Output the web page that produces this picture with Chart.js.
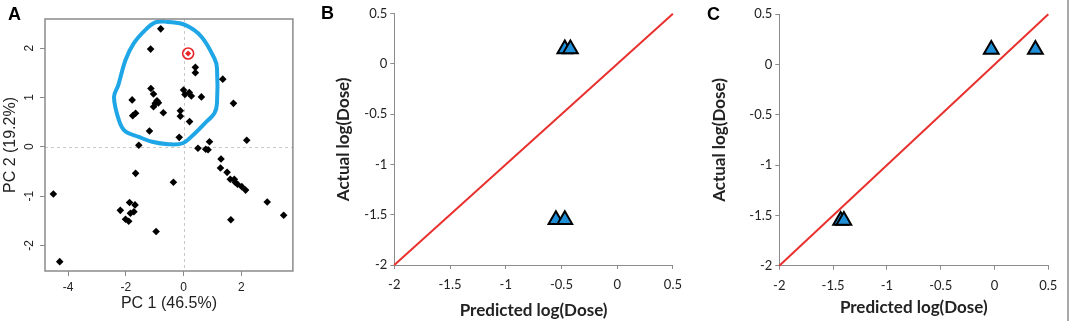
<!DOCTYPE html>
<html><head><meta charset="utf-8">
<script src="https://cdn.jsdelivr.net/npm/chart.js@4"></script>
<style>
body{margin:0;background:#fff;width:1072px;height:324px;position:relative;overflow:hidden}
.p{position:absolute;top:0;height:324px}
.lab{position:absolute;font:bold 18px "Liberation Sans",Arial,sans-serif;line-height:18px;color:#000}
#edge{position:absolute;left:1067px;top:0;width:2px;height:321px;background:#aaa}
</style></head><body>
<div class="p" style="left:0;width:300px"><canvas id="ca" width="300" height="324"></canvas></div>
<div class="p" style="left:300px;width:390px"><canvas id="cb" width="390" height="324"></canvas></div>
<div class="p" style="left:690px;width:382px"><canvas id="cc" width="382" height="324"></canvas></div>
<div class="lab" style="left:8px;top:5px">A</div>
<div class="lab" style="left:321px;top:4px">B</div>
<div class="lab" style="left:707px;top:5px">C</div>
<div id="edge"></div>
<script>
// ---------- Panel A: PCA scores ----------
const pcaX = [-0.79,-1.14,0.41,0.41,1.36,-1.13,-1.04,0.00,0.05,0.20,0.27,0.62,-1.78,-0.92,-0.98,-0.87,-1.04,1.73,-1.66,-1.76,-0.70,-0.11,-0.11,0.21,-1.18,-0.15,-1.55,0.90,0.50,0.77,0.85,2.19,1.30,1.28,1.51,1.62,1.76,1.79,1.87,2.02,2.15,2.90,3.47,1.64,-1.66,-0.35,-4.51,-1.87,-1.68,-2.19,-1.72,-1.84,-2.01,-1.90,-0.95,-4.29];
const pcaY = [2.39,1.98,1.61,1.50,1.37,1.18,1.07,1.15,1.06,1.10,1.03,1.01,0.95,0.93,0.88,0.89,0.81,0.88,0.68,0.63,0.69,0.73,0.62,0.51,0.32,0.19,0.03,0.10,-0.03,-0.05,-0.06,0.13,-0.25,-0.43,-0.52,-0.66,-0.66,-0.72,-0.76,-0.81,-0.88,-1.12,-1.39,-1.48,-0.54,-0.72,-0.96,-1.13,-1.18,-1.29,-1.32,-1.35,-1.47,-1.51,-1.72,-2.33];
const selX = [0.16];
const selY = [1.89];
const outlineX = [-0.64,0.05,0.62,1.07,1.16,1.16,1.07,0.73,0.39,-0.03,-0.52,-1.09,-1.55,-2.03,-2.24,-2.41,-2.26,-2.01,-1.72,-1.32,-0.98,-0.64];
const outlineY = [2.54,2.47,2.23,1.79,1.59,0.88,0.68,0.47,0.27,0.07,0.05,0.10,0.20,0.32,0.54,1.01,1.25,1.76,2.10,2.37,2.52,2.54];
const xTicksA = [-4,-2,0,2];
const yTicksA = [-2,-1,0,1,2];

// ---------- Panels B and C: predicted vs actual log(Dose) ----------
const predB = [-0.47,-0.42,-0.55,-0.47];
const actB  = [0.15,0.15,-1.55,-1.55];
const predC = [-0.03,0.38,-1.43,-1.40];
const actC  = [0.15,0.15,-1.55,-1.55];
const identity = [-2,0.5];
const ticksBC = [-2,-1.5,-1,-0.5,0,0.5];

const pts = (xs, ys) => xs.map((x,i)=>({x, y: ys[i]}));

const R_FONT = '"Liberation Sans", Arial, sans-serif';
const C_FONT = 'Lato, "Open Sans", sans-serif';

const boxPlugin = {
  id:'boxA',
  beforeDatasetsDraw(chart){
    const {ctx, chartArea:a, scales} = chart;
    ctx.save();
    ctx.strokeStyle = '#c8c8c8'; ctx.lineWidth = 1; ctx.setLineDash([3,3]);
    const x0 = Math.round(scales.x.getPixelForValue(0))+0.5;
    const y0 = Math.round(scales.y.getPixelForValue(0))+0.5;
    ctx.beginPath(); ctx.moveTo(x0,a.top); ctx.lineTo(x0,a.bottom); ctx.stroke();
    ctx.beginPath(); ctx.moveTo(a.left,y0); ctx.lineTo(a.right,y0); ctx.stroke();
    ctx.restore();
  },
  afterDraw(chart){
    const {ctx, chartArea:a, scales} = chart;
    ctx.save();
    ctx.strokeStyle = '#8a8a8a'; ctx.lineWidth = 1.5;
    ctx.strokeRect(a.left, a.top, a.right-a.left, a.bottom-a.top);
    ctx.fillStyle = '#222'; ctx.font = '12px ' + R_FONT;
    ctx.textAlign = 'center'; ctx.textBaseline = 'middle';
    yTicksA.forEach(v=>{
      const y = scales.y.getPixelForValue(v);
      ctx.save(); ctx.translate(30, y); ctx.rotate(-Math.PI/2);
      ctx.fillText(String(v), 0, 0); ctx.restore();
    });
    ctx.restore();
  }
};

new Chart(document.getElementById('ca'), {
  type:'scatter',
  data:{datasets:[
    {data: pts(selX, selY), pointStyle:'rectRot', pointRadius:3, backgroundColor:'#e8262a', borderColor:'#e8262a', borderWidth:0},
    {data: pts(selX, selY), pointStyle:'circle', pointRadius:5.5, backgroundColor:'rgba(0,0,0,0)', borderColor:'#e8262a', borderWidth:1.6},
    {data: pts(pcaX, pcaY), pointStyle:'rectRot', pointRadius:3.8, backgroundColor:'#000', borderColor:'#000', borderWidth:0},
    {data: pts(outlineX, outlineY), showLine:true, tension:0.35, pointRadius:0, borderColor:'#1ea6e6', borderWidth:4, fill:false, clip:false}
  ]},
  options:{
    responsive:false, animation:false, events:[],
    layout:{padding:{left:0, top:19, right:4, bottom:0}},
    plugins:{legend:{display:false}, tooltip:{enabled:false}},
    scales:{
      x:{type:'linear', min:-4.8, max:3.79,
        afterBuildTicks:s=>{s.ticks = xTicksA.map(v=>({value:v}));},
        afterFit:s=>{s.height = 53;},
        grid:{drawOnChartArea:false, drawTicks:true, tickLength:5, tickColor:'#8a8a8a'},
        border:{display:false},
        ticks:{padding:4, color:'#222', font:{family:R_FONT, size:12}, callback:v=>String(v), maxRotation:0, autoSkip:false},
        title:{display:true, text:'PC 1 (46.5%)', color:'#222', font:{family:R_FONT, size:16}, padding:{top:0, bottom:11}}
      },
      y:{type:'linear', min:-2.52, max:2.59,
        afterBuildTicks:s=>{s.ticks = yTicksA.map(v=>({value:v}));},
        afterFit:s=>{s.width = 45;},
        grid:{drawOnChartArea:false, drawTicks:true, tickLength:5, tickColor:'#8a8a8a'},
        border:{display:false},
        ticks:{display:false},
        title:{display:true, text:'PC 2 (19.2%)', color:'#222', font:{family:R_FONT, size:16}, padding:{top:1, bottom:0}}
      }
    }
  },
  plugins:[boxPlugin]
});

function dosePanel(id, pred, act, pad, yw, xh, ytp, xbp){
  new Chart(document.getElementById(id), {
    type:'scatter',
    data:{datasets:[
      {data: pts(pred, act), pointStyle:'triangle', pointRadius:8.5, backgroundColor:'#1f8fd8', borderColor:'#000', borderWidth:2},
      {data: pts(identity, identity), showLine:true, pointRadius:0, borderColor:'#e8312f', borderWidth:2, clip:false}
    ]},
    options:{
      responsive:false, animation:false, events:[],
      layout:{padding:pad},
      plugins:{legend:{display:false}, tooltip:{enabled:false}},
      scales:{
        x:{type:'linear', min:-2, max:0.5,
          afterBuildTicks:s=>{s.ticks = ticksBC.map(v=>({value:v}));},
          afterFit:s=>{s.height = xh;},
          grid:{drawOnChartArea:false, drawTicks:true, tickLength:4, tickColor:'#8c8c8c'},
          border:{display:true, color:'#8c8c8c', width:1},
          ticks:{padding:8, color:'#222', font:{family:C_FONT, size:13}, callback:v=>String(v), maxRotation:0, autoSkip:false},
          title:{display:true, text:'Predicted log(Dose)', color:'#222', font:{family:C_FONT, size:17, weight:'bold'}, padding:{top:0, bottom:xbp}}
        },
        y:{type:'linear', min:-2, max:0.5,
          afterBuildTicks:s=>{s.ticks = ticksBC.map(v=>({value:v}));},
          afterFit:s=>{s.width = yw;},
          grid:{drawOnChartArea:false, drawTicks:true, tickLength:4, tickColor:'#8c8c8c'},
          border:{display:true, color:'#8c8c8c', width:1},
          ticks:{padding:3, color:'#222', font:{family:C_FONT, size:13}, callback:v=>String(v), autoSkip:false},
          title:{display:true, text:'Actual log(Dose)', color:'#222', font:{family:C_FONT, size:17, weight:'bold'}, padding:{top:ytp, bottom:0}}
        }
      }
    }
  });
}
dosePanel('cb', predB, actB, {left:0, top:13.7, right:15, bottom:0}, 94.3, 59, 33.8, 2.8);
dosePanel('cc', predC, actC, {left:0, top:14.3, right:23.7, bottom:0}, 89.3, 58.3, 19.8, 5.8);
</script>
</body></html>
